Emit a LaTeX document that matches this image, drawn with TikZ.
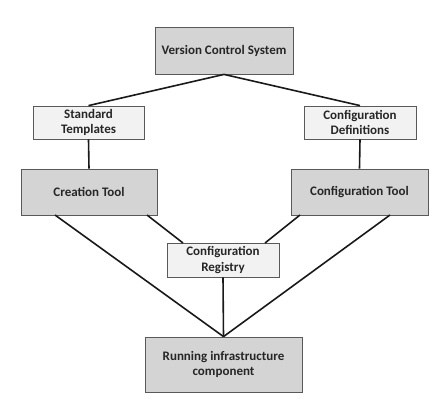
\documentclass[tikz,border=0pt]{standalone}
\usepackage{fontspec}
\setmainfont{Carlito}
\begin{document}
\begin{tikzpicture}[x=1pt,y=-1pt,
  box/.style={draw=black!65,line width=0.8pt,inner sep=0pt,align=center,font=\fontsize{13}{15.5}\selectfont\bfseries,text=black!85},
  dark/.style={box,fill=black!17},
  light/.style={box,fill=black!5},
  conn/.style={line width=1.6pt,black!90}]
\useasboundingbox (0,0) rectangle (447,402);
\node[dark,minimum width=138pt,minimum height=47pt] (vcs) at (224,50.5) {Version Control System};
\node[light,minimum width=111pt,minimum height=33pt] (st) at (88.5,122.5) {Standard\\Templates};
\node[light,minimum width=112pt,minimum height=33pt] (cd) at (360,122.5) {Configuration\\Definitions};
\node[dark,minimum width=136pt,minimum height=46pt] (ct) at (89,192) {Creation Tool};
\node[dark,minimum width=137pt,minimum height=46pt] (cft) at (359.5,192) {Configuration Tool};
\node[light,minimum width=112pt,minimum height=34pt] (cr) at (223,260) {Configuration\\Registry};
\node[dark,minimum width=157pt,minimum height=55pt] (run) at (223.5,364.5) {Running infrastructure\\component};
\coordinate (ctl) at (55,215);
\coordinate (ctr) at (147,215);
\coordinate (cftl) at (300,215);
\coordinate (cftr) at (390,215);
\coordinate (crl) at (183,243);
\coordinate (crr) at (265,243);
\draw[conn] (vcs.south) -- (st.north);
\draw[conn] (vcs.south) -- (cd.north);
\draw[conn] (st.south) -- (ct.north);
\draw[conn] (cd.south) -- (cft.north);
\draw[conn] (ctl) -- (run.north);
\draw[conn] (ctr) -- (crl);
\draw[conn] (cftl) -- (crr);
\draw[conn] (cftr) -- (run.north);
\draw[conn] (cr.south) -- (run.north);
\end{tikzpicture}
\end{document}
